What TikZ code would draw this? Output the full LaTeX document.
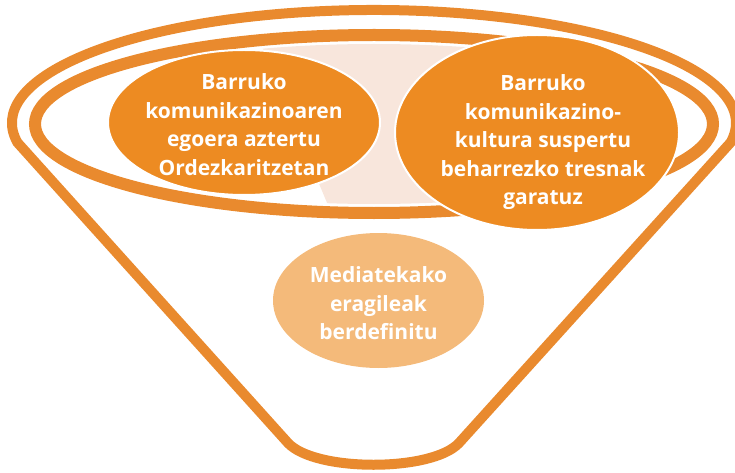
\documentclass[tikz,border=0pt]{standalone}
\usepackage{fontspec}
\setmainfont{Open Sans}
\usetikzlibrary{shapes.geometric}
\definecolor{bandc}{RGB}{233,138,46}
\definecolor{blobc}{RGB}{237,139,34}
\definecolor{pinkc}{RGB}{248,230,220}
\definecolor{lightc}{RGB}{244,186,122}
\tikzset{
  band/.style={draw=bandc, line join=miter},
  blob/.style={ellipse, fill=blobc, draw=white, line width=2pt, inner sep=0pt},
  softblob/.style={ellipse, fill=lightc, inner sep=0pt},
  lbl/.style={text=white, align=center, font=\fontsize{21}{28.5}\selectfont\bfseries, inner sep=0pt}
}
\begin{document}
\begin{tikzpicture}[x=1pt,y=-1pt]
\useasboundingbox (0,0) rectangle (735,473);
\clip (0,0) rectangle (735,473);
% funnel outline
\draw[band, line width=10pt] (17.5,142.6) arc[start angle=170, end angle=370, x radius=362, y radius=113]
  -- (459,443) .. controls (432,472) and (315,472) .. (288,443) -- cycle;
% inner ring
\draw[band, line width=12pt] (374,124) ellipse [x radius=339, y radius=89];
% pink area
\begin{scope}
\clip (255,30) -- (490,30) -- (540,222) -- (335,222) -- cycle;
\fill[pinkc] (374,124) ellipse [x radius=330, y radius=80];
\end{scope}
% ellipses
\node[softblob, minimum width=211pt, minimum height=135pt] (c) at (378.5,300.5) {};
\node[blob, minimum width=272pt, minimum height=145pt] (a) at (244,122.5) {};
\node[blob, minimum width=284pt, minimum height=195pt] (b) at (537,132.5) {};
% texts
\node[lbl] (ta) at ([yshift=-2pt]a.center) {Barruko\\komunikazinoaren\\egoera aztertu\\Ordezkaritzetan};
\node[lbl] (tb) at ([xshift=6pt,yshift=-10pt]b.center) {Barruko\\komunikazino-\\kultura suspertu\\beharrezko tresnak\\garatuz};
\node[lbl] (tc) at ([yshift=-3pt]c.center) {Mediatekako\\eragileak\\berdefinitu};
\end{tikzpicture}
\end{document}
